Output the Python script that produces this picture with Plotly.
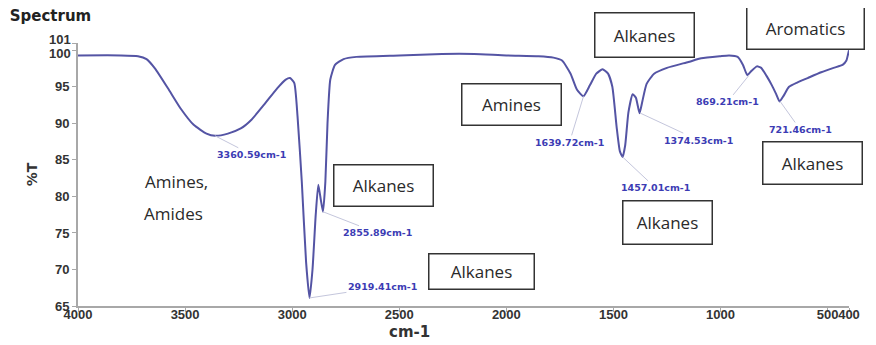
import plotly.graph_objects as go

# ---- data ----
wavenumber = [4000, 3800, 3720, 3680, 3640, 3580, 3520, 3460, 3400, 3360, 3300, 3240, 3190, 3130,
              3070, 3030, 3010, 2990, 2975, 2955, 2935, 2919, 2905, 2890, 2878, 2866, 2856, 2845,
              2835, 2822, 2800, 2760, 2700, 2500, 2300, 2150, 2000, 1850, 1780, 1740, 1700, 1670,
              1640, 1610, 1580, 1551, 1525, 1505, 1485, 1470, 1457, 1445, 1430, 1410, 1395, 1378,
              1365, 1345, 1310, 1250, 1150, 1090, 1000, 960, 920, 895, 875, 855, 830, 810, 785,
              760, 740, 724, 705, 680, 640, 593, 530, 472, 430, 412, 405, 400]
transmittance = [99.3, 99.3, 99.2, 98.8, 97.5, 94.8, 92.0, 89.8, 88.6, 88.3, 88.6, 89.3, 90.5, 92.6,
                 94.8, 96.0, 96.2, 95.5, 91.0, 82.0, 71.0, 66.1, 70.0, 77.5, 81.6, 79.5, 77.9, 82.0,
                 90.0, 96.0, 98.0, 98.8, 99.1, 99.3, 99.5, 99.5, 99.3, 99.2, 99.0, 98.6, 96.8, 94.6,
                 93.7, 95.2, 96.8, 97.4, 96.8, 95.0, 89.5, 86.2, 85.4, 87.0, 91.5, 94.0, 93.5, 91.4,
                 93.0, 95.4, 96.8, 97.6, 98.4, 98.9, 99.2, 99.3, 99.1, 98.0, 96.6, 97.2, 97.8, 97.6,
                 96.5, 95.2, 94.0, 93.0, 93.8, 95.0, 95.6, 96.2, 97.0, 97.6, 98.0, 98.6, 99.4, 100.0]

peak_wn = [3360.59, 2919.41, 2855.89, 1639.72, 1457.01, 1374.53, 869.21, 721.46]
peak_t = [88.3, 66.1, 77.9, 93.7, 85.4, 91.4, 96.5, 93.0]
peak_labels = ["3360.59cm-1", "2919.41cm-1", "2855.89cm-1", "1639.72cm-1",
               "1457.01cm-1", "1374.53cm-1", "869.21cm-1", "721.46cm-1"]

group_labels = ["Alkanes", "Alkanes", "Amines", "Alkanes", "Alkanes", "Aromatics", "Alkanes"]
group_wn = [2575, 2117, 1977, 1355, 1248, 603, 570]
# vertical position as fraction of plot height (0 = 65 %T, 1 = 101 %T)
group_pos = [0.460, 0.133, 0.768, 1.030, 0.319, 1.057, 0.544]

x_ticks = [4000, 3500, 3000, 2500, 2000, 1500, 1000, 500, 400]
y_ticks = [65, 70, 75, 80, 85, 90, 95, 100, 101]
y_top_ticks = [100, 101]          # labelled separately so they do not collide

# ---- styles ----
label_offsets = [(37, 19), (73, -11), (54, 21), (-14, 46), (33, 31), (58, 27), (-21, 26), (20, 28)]
box_sizes = [(98, 40), (104, 34), (98, 40), (98, 43), (88, 42), (116, 41), (98, 41)]
top_tick_shift = [-3, 4]
tick_font = dict(family="Liberation Sans", size=13, color="#333333", weight="bold")

fig = go.Figure()
fig.add_trace(go.Scatter(x=wavenumber, y=transmittance, mode="lines",
                         line=dict(color="#5454a4", width=2, shape="spline", smoothing=0.5),
                         hoverinfo="skip", showlegend=False))

annotations = []
for wn, t, txt, (ax, ay) in zip(peak_wn, peak_t, peak_labels, label_offsets):
    annotations.append(dict(x=wn, y=t, xref="x", yref="y", text=txt, showarrow=True,
                            arrowhead=0, arrowwidth=1, arrowcolor="#c4c6dc", ax=ax, ay=ay,
                            standoff=0,
                            font=dict(family="DejaVu Sans", size=9.5, color="#3c3cb4", weight="bold")))

for wn, p, txt, (w, h) in zip(group_wn, group_pos, group_labels, box_sizes):
    annotations.append(dict(x=wn, y=p, xref="x", yref="paper", text=txt, showarrow=False,
                            xanchor="center", yanchor="middle",
                            width=w, height=h, bordercolor="#333333", borderwidth=1.5,
                            borderpad=0, bgcolor="white", align="center", valign="middle",
                            font=dict(family="Open Sans", size=17, color="#2a2a2a")))

# two-line label without box
annotations.append(dict(x=3542, y=82.1, xref="x", yref="y", text="Amines,", showarrow=False,
                        xanchor="center", yanchor="middle",
                        font=dict(family="Open Sans", size=17, color="#2a2a2a")))
annotations.append(dict(x=3555, y=77.6, xref="x", yref="y", text="Amides", showarrow=False,
                        xanchor="center", yanchor="middle",
                        font=dict(family="Open Sans", size=17, color="#2a2a2a")))

# top y tick labels
for v, s in zip(y_top_ticks, top_tick_shift):
    annotations.append(dict(x=0, y=v, xref="paper", yref="y", text=str(v), showarrow=False,
                            xanchor="right", yanchor="middle", xshift=-6, yshift=s,
                            borderpad=0, font=tick_font))

# axis titles
annotations.append(dict(x=0.43, y=-0.097, xref="paper", yref="paper", text="cm-1",
                        showarrow=False, xanchor="center", yanchor="middle",
                        font=dict(family="DejaVu Sans", size=15, color="#333333", weight="bold")))
annotations.append(dict(x=-0.06, y=0.5, xref="paper", yref="paper", text="%T", textangle=-90,
                        showarrow=False, xanchor="center", yanchor="middle",
                        font=dict(family="DejaVu Sans", size=14, color="#333333", weight="bold")))

axis_common = dict(showline=True, linecolor="#a8a8a8", linewidth=2, ticks="outside",
                   ticklen=4, tickcolor="#a8a8a8", showgrid=False, zeroline=False,
                   tickfont=tick_font)

fig.update_layout(
    width=868, height=337,
    margin=dict(l=70, r=27, t=35, b=39),
    paper_bgcolor="white", plot_bgcolor="white",
    title=dict(text="Spectrum", x=0.002, xanchor="left", xref="container",
               y=1 - 2 / 337, yanchor="top", yref="container", pad=dict(t=0, b=0, l=0, r=0),
               font=dict(family="DejaVu Sans", size=15, color="#222222", weight="bold")),
    xaxis=dict(range=[4000, 400], tickvals=x_ticks, ticktext=[str(v) for v in x_ticks],
               tickangle=0, ticklabelstandoff=-9, **axis_common),
    yaxis=dict(range=[65, 101], tickvals=y_ticks,
               ticktext=["" if v in y_top_ticks else str(v) for v in y_ticks],
               **axis_common),
    annotations=annotations,
)

fig.write_html("out.html")
